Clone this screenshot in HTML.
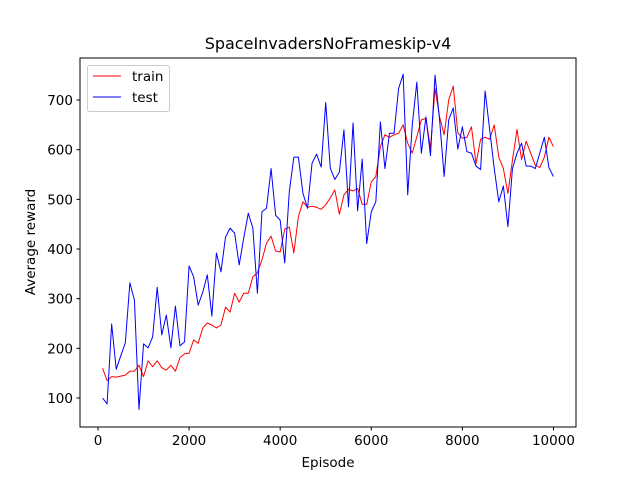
<!DOCTYPE html>
<html><head><meta charset="utf-8"><style>body{margin:0;background:#fff}svg text{font-family:"DejaVu Sans","Liberation Sans",sans-serif}</style></head>
<body>
<svg id="chart" width="640" height="480" xmlns="http://www.w3.org/2000/svg">
<rect width="640" height="480" fill="#fff"/>
<text x="328" y="49" font-size="16" text-anchor="middle">SpaceInvadersNoFrameskip-v4</text>
<g id="plot"></g>
<rect x="80" y="58" width="496" height="369" fill="none" stroke="#000" stroke-width="1"/>
<text x="328" y="467" font-size="13.5" text-anchor="middle">Episode</text>
<text transform="translate(35,242) rotate(-90)" font-size="13.5" text-anchor="middle">Average reward</text>
<g>
<rect x="87.5" y="65.5" width="82" height="46" rx="2" fill="#fff" fill-opacity="0.8" stroke="#ccc"/>
<line x1="93" y1="76" x2="121" y2="76" stroke="red" stroke-width="1"/>
<text x="132" y="81" font-size="13.5">train</text>
<line x1="93" y1="97" x2="121" y2="97" stroke="blue" stroke-width="1"/>
<text x="132" y="102" font-size="13.5">test</text>
</g>
</svg>
<script>
const episodes = Array.from({length:100},(_,i)=>(i+1)*100);
const trainValues = [160,135,143,142,144,146,154,154,166,143,175,163,175,161,156,166,154,181,189,190,217,210,241,251,247,241,
247,283,273,311,293,311,311,344,352,378,412,426,396,394,440,444,392,465,495,484,486,484,480,489,
503,519,470,509,520,517,522,490,490,535,546,606,630,625,630,633,650,613,593,626,660,663,603,723,666,
630,700,728,634,623,625,646,572,621,625,621,650,585,562,512,579,641,580,617,593,569,564,585,625,606];
const testValues = [100,88,249,158,185,211,332,297,77,209,201,223,323,227,267,201,285,205,213,366,344,287,313,348,265,392,
354,424,442,432,368,422,472,442,311,475,482,562,468,458,372,515,585,585,512,482,573,591,565,695,
563,540,555,640,485,654,477,581,411,475,495,656,562,633,633,723,752,509,650,736,593,666,588,750,660,
546,660,684,601,646,596,593,567,560,718,640,562,495,527,445,562,593,613,567,567,562,593,625,564,546];
const xTicks = [0,2000,4000,6000,8000,10000];
const yTicks = [100,200,300,400,500,600,700];

const NS="http://www.w3.org/2000/svg";
const L=80,R=576,T=58,B=427;
const xMin=-395,xMax=10495,yMin=41.6,yMax=784.6;
const sx=v=>L+(v-xMin)/(xMax-xMin)*(R-L);
const sy=v=>B-(v-yMin)/(yMax-yMin)*(B-T);
const g=document.getElementById('plot');
function mk(tag,attrs){const e=document.createElementNS(NS,tag);for(const k in attrs)e.setAttribute(k,attrs[k]);g.appendChild(e);return e;}
xTicks.forEach(t=>{
  const x=sx(t);
  const l=mk('line',{x1:x,y1:B,x2:x,y2:B+3.5,stroke:'#000'});
  
  
  const tx=mk('text',{x:x,y:B+18,'font-size':13.5,'text-anchor':'middle'});
  tx.textContent=t;
  
  
});
yTicks.forEach(t=>{
  const y=sy(t);
  const l=mk('line',{x1:L-3.5,y1:y,x2:L,y2:y,stroke:'#000'});
  
  
  const tx=mk('text',{x:L-7,y:y+5,'font-size':13.5,'text-anchor':'end'});
  tx.textContent=t;
  
  
});
function line(vals,color,name){
  const pts=vals.map((v,i)=>sx(episodes[i]).toFixed(2)+','+sy(v).toFixed(2)).join(' ');
  const p=mk('polyline',{points:pts,fill:'none',stroke:color,'stroke-width':1,'stroke-linejoin':'round'});
  
  
}
line(trainValues,'red','train-line');
line(testValues,'blue','test-line');
</script>
</body></html>
